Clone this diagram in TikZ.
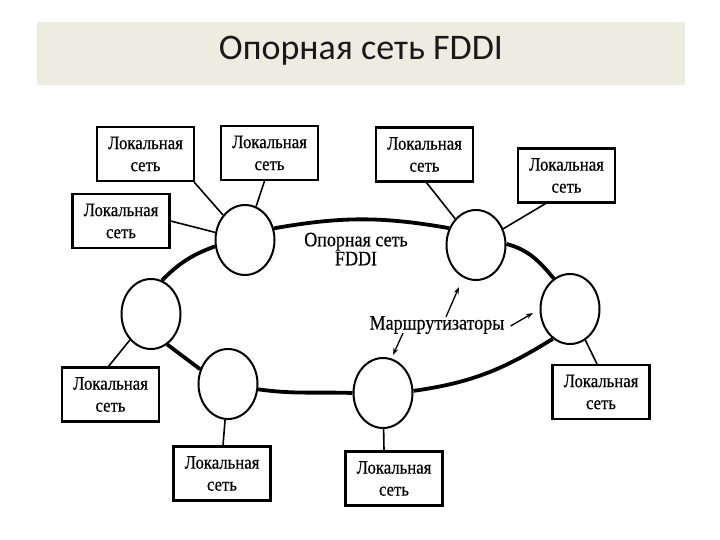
\documentclass[tikz,border=0pt]{standalone}
\usepackage{fontspec}
\setmainfont{Liberation Serif}
\newfontfamily\titlefont{Carlito}
\newfontfamily\scanfont[FakeStretch=0.88,FakeBold=0.4]{Liberation Serif}
\usetikzlibrary{shapes.geometric,arrows.meta,backgrounds,calc}
\definecolor{barbg}{HTML}{EEECE1}
\tikzset{
  router/.style={ellipse, draw, line width=2pt, fill=white, minimum width=59pt, minimum height=70pt, inner sep=0pt},
  lanbox/.style={rectangle, draw, line width=2.2pt, fill=white, minimum width=97pt, minimum height=54pt, inner sep=0pt, align=center, font=\scanfont\fontsize{19}{22}\selectfont},
  ring/.style={line width=3.8pt},
  link/.style={line width=1.6pt},
  pointer/.style={line width=1.3pt, -{Stealth[length=7pt,width=5pt]}},
  lbl/.style={align=center, font=\scanfont\fontsize{20.5}{19}\selectfont, inner sep=0pt}
}
\begin{document}
\begin{tikzpicture}[x=1pt,y=-1pt]
\useasboundingbox (0,0) rectangle (720,540);
% title bar
\node[rectangle, fill=barbg, minimum width=648pt, minimum height=63pt, inner sep=0pt] (bar) at (361,53.5) {};
\node[font=\titlefont\fontsize{36}{36}\selectfont, text=black!90] (title) at (361,51) {Опорная сеть FDDI};
% routers
\node[router] (R1) at (245,240) {};
\node[router] (R2) at (476,245) {};
\node[router] (R3) at (570,309) {};
\node[router] (R6) at (383,393) {};
\node[router] (R7) at (228,384) {};
\node[router] (R8) at (151,314) {};
% LAN boxes
\node[lanbox] (TL1) at (145.5,154) {Локальная\\сеть};
\node[lanbox] (TL2) at (269.5,153) {Локальная\\сеть};
\node[lanbox] (L)   at (121,221) {Локальная\\сеть};
\node[lanbox] (TR1) at (424.5,154.5) {Локальная\\сеть};
\node[lanbox] (TR2) at (566.5,175.5) {Локальная\\сеть};
\node[lanbox] (BL)  at (110.5,394.5) {Локальная\\сеть};
\node[lanbox] (B1)  at (222,473.5) {Локальная\\сеть};
\node[lanbox] (BM)  at (394,478.5) {Локальная\\сеть};
\node[lanbox] (BR)  at (601,392) {Локальная\\сеть};
% labels
\node[lbl] (FD) at (356,249) {Опорная сеть\\FDDI};
\node[lbl] (M) at (437,325) {Маршрутизаторы};
% ring and links behind
\begin{scope}[on background layer]
\draw[ring] (R1.22) to[out=10, in=170] (R2.148);
\draw[ring] (R2.2) to[out=-15, in=130] (R3.118);
\draw[ring] (R3.240) to[out=-148, in=8] (R6.4);
\draw[ring] (R6.180) to[out=178, in=-8] (R7.-10);
\draw[ring] (R7.152) -- (R8.-62);
\draw[ring] (R8.72) to[out=45, in=200] (R1.192);
\draw[link] ([xshift=-1pt]TL1.south east) -- (R1);
\draw[link] ([xshift=-5pt]TL2.south) -- (R1);
\draw[link] (L.east) -- (R1);
\draw[link] ([xshift=2pt]TR1.south) -- (R2);
\draw[link] ([xshift=-21pt]TR2.south) -- (R2);
\draw[link] ([xshift=-2pt]BL.north) -- (R8);
\draw[link] ([xshift=1pt]B1.north) -- (R7);
\draw[link] ([xshift=-10pt]BM.north) -- (R6);
\draw[link] ([xshift=-4pt]BR.north) -- (R3);
\end{scope}
% pointer arrows
\coordinate (a2) at (459,287);
\coordinate (a3) at (533,313);
\coordinate (a6) at (393,355);
\draw[pointer] ([xshift=9pt,yshift=-1pt]M.north) -- (a2);
\draw[pointer] ([xshift=6pt,yshift=-1pt]M.east) -- (a3);
\draw[pointer] ([xshift=-34pt,yshift=1pt]M.south) -- (a6);
\end{tikzpicture}
\end{document}
